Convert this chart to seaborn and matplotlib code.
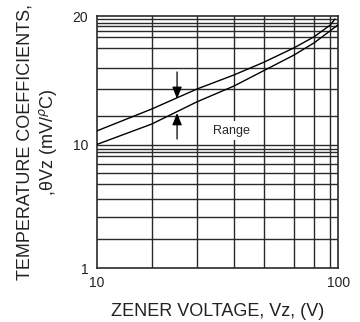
import numpy as np
import pandas as pd
import matplotlib
matplotlib.use("Agg")
import matplotlib.pyplot as plt
import seaborn as sns

# ---------------------------------------------------------
# Data
# ---------------------------------------------------------
zener_v = [10, 20, 30, 40, 50, 60, 70, 80]
tc_upper = [10.47, 11.25, 12.0, 12.66, 13.27, 14.0, 15.1, 17.3]
tc_lower = [10.0, 10.71, 11.52, 12.14, 12.86, 13.64, 14.48, 16.06]
# end points of the two curves (top right)
upper_end = (91.8, 19.1)
lower_end = (100, 17.4)

x_grid = [20, 30, 40, 50, 60, 70, 80]
y_grid = [1.5, 2, 3, 4, 5, 6, 7, 8, 9, 10, 11, 12, 13, 14, 15, 16, 17, 18, 19]
x_ticks = [10, 100]
y_ticks = [1, 10, 20]

# ---------------------------------------------------------
# The printed grid is not a true log grid, so build a scale
# that follows the spacing of the drawn rulings
# ---------------------------------------------------------
x_scale_vals = np.array([10, 20, 30, 40, 50, 60, 70, 80, 100])
x_scale_pos = np.array([96.7, 151.7, 197, 234, 263.7, 294.3, 314.3, 330.3, 338.3])
y_scale_vals = np.array([1, 1.5, 2, 3, 4, 5, 6, 7, 8, 9, 10,
                         11, 12, 13, 14, 15, 16, 17, 18, 19, 20])
y_scale_pos = -np.array([268, 239.3, 216.7, 199.3, 184, 172.5, 163.5, 156, 151.5, 148.5, 144.5,
                         115.7, 89, 67.7, 47.7, 37.3, 31, 26, 22.7, 19.3, 16])


def x_fwd(v):
    return np.interp(v, x_scale_vals, x_scale_pos)


def x_inv(p):
    return np.interp(p, x_scale_pos, x_scale_vals)


def y_fwd(v):
    return np.interp(v, y_scale_vals, y_scale_pos)


def y_inv(p):
    return np.interp(p, y_scale_pos, y_scale_vals)


# ---------------------------------------------------------
# Plot
# ---------------------------------------------------------
sns.set_style("white")
plt.rcParams['font.family'] = ['Liberation Sans', 'DejaVu Sans']

fig = plt.figure(figsize=(3.6, 3.22), dpi=100)
ax = fig.add_axes([0.2686, 0.1677, 0.9397 - 0.2686, 0.9503 - 0.1677])

ax.set_xscale('function', functions=(x_fwd, x_inv))
ax.set_yscale('function', functions=(y_fwd, y_inv))
ax.set_xlim(10, 100)
ax.set_ylim(1, 20)

for xv in x_grid:
    ax.axvline(xv, color='#2a2a2a', lw=1.0, zorder=1)
for yv in y_grid:
    ax.axhline(yv, color='#2a2a2a', lw=1.0, zorder=1)

df_up = pd.DataFrame({'Vz': zener_v + [upper_end[0]], 'TC': tc_upper + [upper_end[1]]})
df_lo = pd.DataFrame({'Vz': zener_v + [lower_end[0]], 'TC': tc_lower + [lower_end[1]]})
sns.lineplot(data=df_up, x='Vz', y='TC', ax=ax, color='black', lw=1.0, zorder=3)
sns.lineplot(data=df_lo, x='Vz', y='TC', ax=ax, color='black', lw=1.0, zorder=3)

# range arrows
arrow_style = dict(arrowstyle='-|>,head_length=0.4,head_width=0.16', color='black',
                   lw=0.9, mutation_scale=18, shrinkA=0, shrinkB=0)
ax.annotate('', xy=(25.6, 11.63), xytext=(25.6, 12.8), arrowprops=arrow_style, zorder=4)
ax.annotate('', xy=(25.6, 11.1), xytext=(25.6, 10.19), arrowprops=arrow_style, zorder=4)

ax.text(39.2, 10.47, 'Range', ha='center', va='center', fontsize=9, zorder=4,
        bbox=dict(facecolor='white', edgecolor='none', pad=2.5))

ax.set_xticks(x_ticks)
ax.set_xticklabels(['10', '100'])
ax.set_yticks(y_ticks)
ax.set_yticklabels(['1', '10', '20'])
ax.minorticks_off()
ax.tick_params(length=0, labelsize=10, colors='#222222', pad=6)

for s in ax.spines.values():
    s.set_color('#2a2a2a')
    s.set_linewidth(1.2)

ax.set_xlabel('ZENER VOLTAGE, Vz, (V)', fontsize=13, color='#222222', labelpad=9)
ax.set_ylabel('TEMPERATURE COEFFICIENTS,\n,θVz (mV/$^{\\rho}$C)', fontsize=13,
              color='#222222', labelpad=10, linespacing=1.2)

fig.savefig('out.png', dpi=100)
